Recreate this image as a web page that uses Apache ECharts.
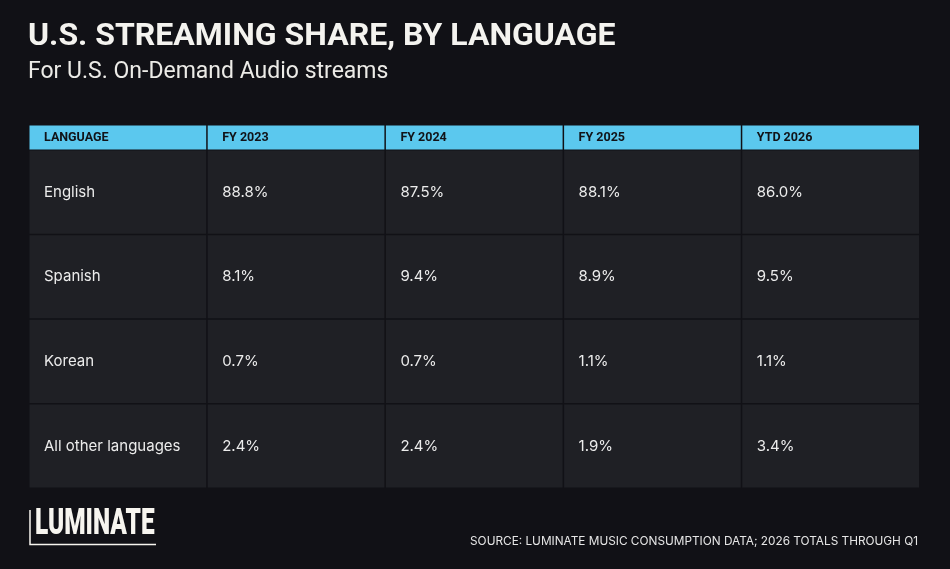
<!DOCTYPE html>
<html><head><meta charset="utf-8">
<script src="https://cdn.jsdelivr.net/npm/echarts@6/dist/echarts.min.js"></script>
<style>html,body{margin:0;padding:0;background:#111116;}#c{width:950px;height:569px;}</style>
</head><body><div id="c"></div>
<script>
const columns = ['LANGUAGE', 'FY 2023', 'FY 2024', 'FY 2025', 'YTD 2026'];
const languages = ['English', 'Spanish', 'Korean', 'All other languages'];
const fy2023 = [88.8, 8.1, 0.7, 2.4];
const fy2024 = [87.5, 9.4, 0.7, 2.4];
const fy2025 = [88.1, 8.9, 1.1, 1.9];
const ytd2026 = [86.0, 9.5, 1.1, 3.4];
const valueColumns = [fy2023, fy2024, fy2025, ytd2026];

const headerData = columns.map((c, i) => [i, 0, c]);
const bodyData = [];
languages.forEach((lang, r) => {
  bodyData.push([0, r, lang]);
  valueColumns.forEach((col, ci) => {
    bodyData.push([ci + 1, r, col[r].toFixed(1) + '%']);
  });
});

function cellRenderer(fill, font, color, pad, dy) {
  return function (params, api) {
    const c = api.coord([api.value(0), api.value(1)]);
    const s = api.size([1, 1]);
    const x0 = c[0] - s[0] / 2, y0 = c[1] - s[1] / 2;
    return {
      type: 'group',
      children: [
        { type: 'rect', shape: { x: x0 + 0.5, y: y0 + 0.5, width: s[0] - 1.5, height: s[1] - 1.5 }, style: { fill: fill } },
        { type: 'text', x: x0 + pad, y: c[1] + dy, style: { text: cellText(params), font: font, fill: color, verticalAlign: 'middle', align: 'left' } }
      ]
    };
  };
}
function cellText(params) { return params.seriesIndex === 0 ? headerData[params.dataIndex][2] : bodyData[params.dataIndex][2]; }

const chart = echarts.init(document.getElementById('c'));
chart.setOption({
  backgroundColor: '#111116',
  animation: false,
  title: [
    { text: 'U.S. STREAMING SHARE, BY LANGUAGE', left: 23, top: 16, textStyle: { color: '#f4f3ef', fontFamily: 'Roboto', fontWeight: 'bold', fontSize: 32 } },
    { text: 'For U.S. On-Demand Audio streams', left: 23, top: 56, textStyle: { color: '#ecebe7', fontFamily: 'Roboto', fontWeight: 'normal', fontSize: 23 } },
    { text: 'SOURCE: LUMINATE MUSIC CONSUMPTION DATA; 2026 TOTALS THROUGH Q1', right: 27, top: 530, textStyle: { color: '#e6e6e6', fontFamily: 'Inter', fontWeight: 'normal', fontSize: 11.8 } }
  ],
  grid: [
    { left: 29, top: 125, width: 891, height: 25.5 },
    { left: 29, top: 150, width: 891, height: 338.5 }
  ],
  xAxis: [
    { type: 'category', gridIndex: 0, data: columns, show: false },
    { type: 'category', gridIndex: 1, data: columns, show: false }
  ],
  yAxis: [
    { type: 'category', gridIndex: 0, data: ['header'], show: false },
    { type: 'category', gridIndex: 1, data: languages, inverse: true, show: false }
  ],
  series: [
    { type: 'custom', xAxisIndex: 0, yAxisIndex: 0, data: headerData.map(d => [d[0], d[1]]),
      renderItem: cellRenderer('#5bc8ee', 'bold 12.5px Roboto', '#111318', 15, 0.5) },
    { type: 'custom', xAxisIndex: 1, yAxisIndex: 1, data: bodyData.map(d => [d[0], d[1]]),
      renderItem: cellRenderer('#1f2025', '15px Inter', '#ececec', 15, 0) }
  ],
  graphic: [
    { type: 'text', left: 35, top: 506, scaleX: 0.66, style: { text: 'LUMINATE', font: '900 37px Roboto', fill: '#f7f5ef' } },
    { type: 'polyline', shape: { points: [[30, 510], [30, 544.5], [156, 544.5]] }, style: { stroke: '#f7f5ef', lineWidth: 1.5, fill: null } }
  ]
});
</script></body></html>
